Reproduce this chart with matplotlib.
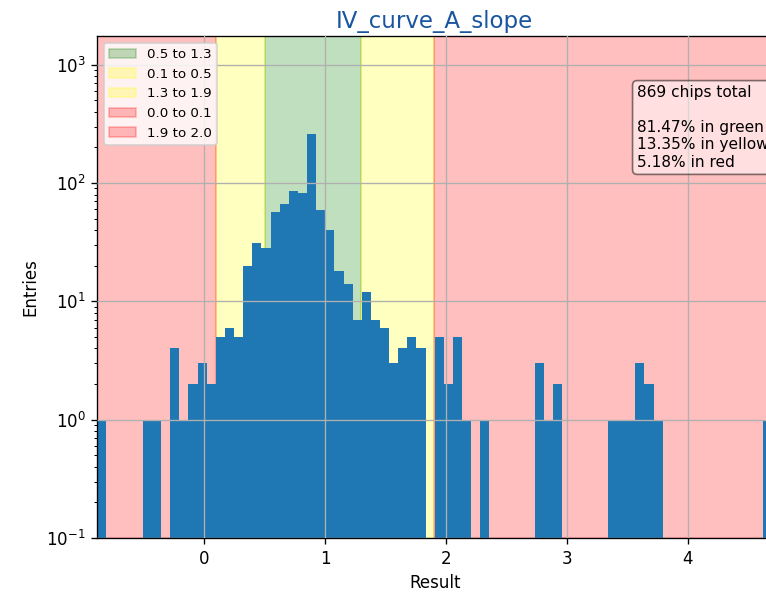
import numpy as np
import matplotlib
matplotlib.use("Agg")
import matplotlib.pyplot as plt

# Histogram binning
bin_lo = -0.885
bin_hi = 4.70
n_bins = 74

# counts per non-empty bin (index -> count)
bin_index = [0, 5, 6, 8, 9, 10, 11, 12, 13, 14, 15, 16, 17, 18, 19, 20, 21, 22,
             23, 24, 25, 26, 27, 28, 29, 30, 31, 32, 33, 34, 35, 37, 38, 39, 40,
             42, 48, 49, 50, 56, 57, 58, 59, 60, 61, 73]
bin_count = [1, 1, 1, 4, 1, 2, 3, 2, 5, 6, 5, 20, 31, 28, 57, 67, 85, 83,
             261, 59, 40, 18, 14, 7, 12, 7, 6, 3, 4, 5, 4, 5, 2, 5, 1,
             1, 3, 1, 2, 1, 1, 1, 3, 2, 1, 1]

# bands
band_labels = ["0.5 to 1.3", "0.1 to 0.5", "1.3 to 1.9", "0.0 to 0.1", "1.9 to 2.0"]
band_lo = [0.5, 0.1, 1.3, bin_lo, 1.9]
band_hi = [1.3, 0.5, 1.9, 0.1, bin_hi]
band_colors = ["green", "yellow", "yellow", "red", "red"]

title = "IV_curve_A_slope"
info_text = "869 chips total\n\n81.47% in green\n13.35% in yellow\n5.18% in red"

DPI = 120
edges = np.linspace(bin_lo, bin_hi, n_bins + 1)
width = edges[1] - edges[0]
lefts = edges[np.array(bin_index)]

fig = plt.figure(figsize=(766 / DPI, 596 / DPI), dpi=DPI)
ax = fig.add_axes([0.127, 0.0973, 0.881, 0.8423])

for lo, hi, col, lab in zip(band_lo, band_hi, band_colors, band_labels):
    ax.axvspan(lo, hi, color=col, alpha=0.25, label=lab)

ax.bar(lefts, bin_count, width=width, align="edge", color="#1f77b4", log=True)

ax.set_yscale("log")
ax.set_ylim(0.1, 1750)
ax.set_xlim(bin_lo, bin_hi)
ax.grid(True, color="#b0b0b0")
ax.set_axisbelow(False)
for gl in ax.get_xgridlines() + ax.get_ygridlines():
    gl.set_zorder(5)

ax.set_xlabel("Result")
ax.set_ylabel("Entries")
ax.set_title(title, fontsize=13.7, color="#1a56a0", pad=5)
ax.legend(loc="upper left", fontsize=8)
ax.text(0.8, 0.902, info_text, transform=ax.transAxes, va="top", ha="left",
        fontsize=9.2, zorder=10,
        bbox=dict(boxstyle="round", facecolor="white", alpha=0.5))

fig.savefig("out.png", dpi=DPI)
